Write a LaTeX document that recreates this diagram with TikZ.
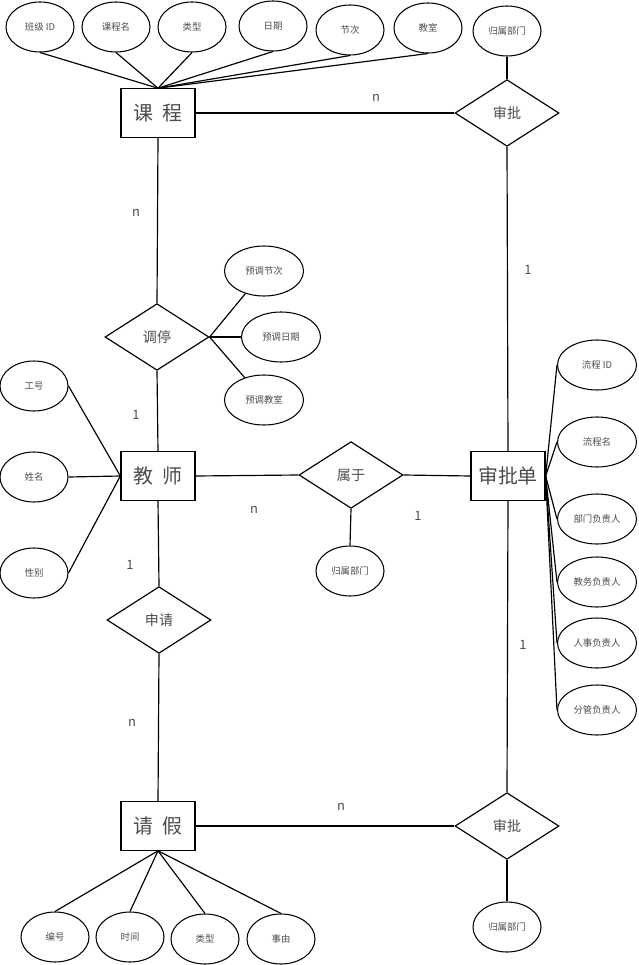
\documentclass[tikz,border=0pt]{standalone}
\usepackage{fontspec}
\setmainfont{Noto Sans CJK SC}
\usetikzlibrary{shapes.geometric}

\begin{document}
\begin{tikzpicture}[x=0.03cm,y=-0.03cm,
    every node/.style={text=black!70},
    attr/.style={draw=black,ellipse,line width=0.9pt,minimum width=2.04cm,minimum height=1.5cm,inner sep=0pt,font=\fontsize{8}{9}\selectfont},
    wattr/.style={attr,minimum width=2.37cm},
    ent/.style={draw=black,rectangle,line width=1.1pt,minimum width=2.22cm,minimum height=1.45cm,font=\fontsize{17}{20}\selectfont},
    rel/.style={draw=black,diamond,line width=1pt,minimum width=3.12cm,minimum height=2cm,inner sep=0pt,font=\fontsize{12}{14}\selectfont},
    card/.style={font=\fontsize{11}{13}\selectfont},
    link/.style={line width=1pt}]
  \useasboundingbox (0,0) rectangle (638,965);

  % entities
  \node[ent] (kc) at (158,113) {课\hspace{0.5em}程};
  \node[ent] (js) at (158,476) {教\hspace{0.5em}师};
  \node[ent] (qj) at (158,826) {请\hspace{0.5em}假};
  \node[ent] (spd) at (508,476) {审批单};

  % relations
  \node[rel] (sp1) at (507,113) {审批};
  \node[rel] (tt) at (157,337) {调停};
  \node[rel] (sy) at (351,475) {属于};
  \node[rel] (sq) at (159,620) {申请};
  \node[rel] (sp2) at (507,826) {审批};

  % attributes of 课程
  \foreach \n/\x/\y/\t in {k1/40/27/班级 ID,k2/116/27/课程名,k3/192/27/类型,k4/273/26/日期,k5/350/30/节次,k6/428/28/教室}{
      \node[attr] (\n) at (\x,\y) {\t};
      \draw[link] (\n.south) -- (kc.north);
  }
  \node[attr] (gs1) at (507,31) {归属部门};
  \node[attr] (gs2) at (350,571) {归属部门};
  \node[attr] (gs3) at (507,927) {归属部门};

  % attributes of 调停
  \foreach \n/\x/\y/\t in {y1/264/271/预调节次,y2/281/337/预调日期,y3/264/400/预调教室}{
      \node[wattr] (\n) at (\x,\y) {\t};
      \draw[link] (tt.east) -- (\n);
  }

  % attributes of 教师
  \foreach \n/\y/\t in {t1/386/工号,t2/477/姓名,t3/573/性别}{
      \node[attr] (\n) at (34,\y) {\t};
      \draw[link] (\n.east) -- (js.west);
  }

  % attributes of 审批单
  \foreach \n/\y/\t in {p1/365/流程 ID,p2/442/流程名,p3/519/部门负责人,p4/582/教务负责人,p5/643/人事负责人,p6/710/分管负责人}{
      \node[wattr] (\n) at (597,\y) {\t};
      \draw[link] (spd.east) -- (\n.west);
  }

  % attributes of 请假
  \foreach \n/\x/\y/\t in {q1/55/937/编号,q2/130/937/时间,q3/205/939/类型,q4/281/939/事由}{
      \node[attr] (\n) at (\x,\y) {\t};
      \draw[link] (qj.south) -- (\n.north);
  }

  % connectors
  \draw[link] (kc.east) -- (sp1.west);
  \draw[link] (gs1.south) -- (sp1.north);
  \draw[link] (sp1.south) -- (spd.north);
  \draw[link] (kc.south) -- (tt.north);
  \draw[link] (tt.south) -- (js.north);
  \draw[link] (js.east) -- (sy.west);
  \draw[link] (sy.east) -- (spd.west);
  \draw[link] (sy.south) -- (gs2.north);
  \draw[link] (js.south) -- (sq.north);
  \draw[link] (sq.south) -- (qj.north);
  \draw[link] (qj.east) -- (sp2.west);
  \draw[link] (spd.south) -- (sp2.north);
  \draw[link] (sp2.south) -- (gs3.north);

  % cardinalities
  \node[card] (c1) at (376,98) {n};
  \node[card] (c2) at (136,213) {n};
  \node[card] (c3) at (528,270) {1};
  \node[card] (c4) at (136,415) {1};
  \node[card] (c5) at (254,510) {n};
  \node[card] (c6) at (418,516) {1};
  \node[card] (c7) at (130,565) {1};
  \node[card] (c8) at (523,645) {1};
  \node[card] (c9) at (132,723) {n};
  \node[card] (c10) at (341,807) {n};
\end{tikzpicture}
\end{document}
